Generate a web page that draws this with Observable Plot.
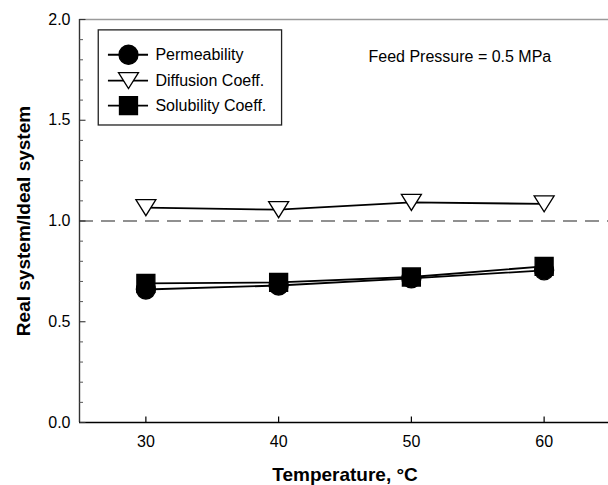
<!DOCTYPE html>
<html>
<head>
<meta charset="utf-8">
<script src="https://cdn.jsdelivr.net/npm/d3@7"></script>
<script src="https://cdn.jsdelivr.net/npm/@observablehq/plot@0.6"></script>
<style>
  body { margin: 0; background: #fff; overflow: hidden; }
</style>
</head>
<body>
<div id="chart"></div>
<script>
// Ratio of real to ideal system at a feed pressure of 0.5 MPa
const temperatures = [30, 40, 50, 60];
const permeability = [0.66, 0.68, 0.715, 0.755];
const diffusion = [1.066, 1.056, 1.092, 1.085];
const solubility = [0.69, 0.695, 0.722, 0.775];
const seriesNames = ["Permeability", "Diffusion Coeff.", "Solubility Coeff."];

const xTicks = [30, 40, 50, 60];
const yTicks = [0.0, 0.5, 1.0, 1.5, 2.0];
const yMinorTicks = [0.1, 0.2, 0.3, 0.4, 0.6, 0.7, 0.8, 0.9, 1.1, 1.2, 1.3, 1.4, 1.6, 1.7, 1.8, 1.9];
const note = "Feed Pressure = 0.5 MPa";

// Marker shapes (r = radius passed by Plot.dot)
const circleSym = {draw(ctx, size) { const r = Math.sqrt(size / Math.PI); ctx.moveTo(r, 0); ctx.arc(0, 0, r, 0, 2 * Math.PI); }};
const squareSym = {draw(ctx, size) { const r = Math.sqrt(size / Math.PI); ctx.rect(-r, -r, 2 * r, 2 * r); }};
const triDownSym = {draw(ctx, size) { const r = Math.sqrt(size / Math.PI); const h = r * 0.8; ctx.moveTo(-r, -h); ctx.lineTo(r, -h); ctx.lineTo(0, h); ctx.closePath(); }};
const tickUpSym = {draw(ctx) { ctx.moveTo(0, 0); ctx.lineTo(0, -6); }};
const tickRightMajor = {draw(ctx) { ctx.moveTo(0, 0); ctx.lineTo(6, 0); }};
const tickRightMinor = {draw(ctx) { ctx.moveTo(0, 0); ctx.lineTo(3.5, 0); }};

const seriesValues = [permeability, diffusion, solubility];
const styles = [
  {symbol: circleSym, r: 9.5, fill: "black"},
  {symbol: triDownSym, r: 10, fill: "white"},
  {symbol: squareSym, r: 9, fill: "black"}
];

const rows = seriesNames.flatMap((name, s) =>
  temperatures.map((t, i) => ({series: name, t, v: seriesValues[s][i]}))
);

// Legend placement in data units
const legendBox = {x1: 26.45, x2: 40.26, y1: 1.474, y2: 1.946};
const legendKey = {x1: 27.18, x2: 30.2, x: 28.69, text: 30.72};
const legendY = [1.825, 1.697, 1.573];
const legendRows = seriesNames.map((name, s) => ({name, y: legendY[s], s}));

const font = "'Liberation Sans', Arial, Helvetica, sans-serif";

const seriesDots = (data, xAcc, yAcc) => styles.map((st, s) =>
  Plot.dot(data.filter(d => (d.s ?? seriesNames.indexOf(d.series)) === s), {
    x: xAcc, y: yAcc, symbol: st.symbol, r: st.r, fill: st.fill, stroke: "black", strokeWidth: 1.3
  })
);

const chart = Plot.plot({
  width: 608,
  height: 485,
  marginLeft: 79,
  marginRight: -2,
  marginTop: 19,
  marginBottom: 63,
  style: {fontFamily: font, fontSize: "16px", background: "white", color: "black"},
  x: {domain: [25, 65], axis: null},
  y: {domain: [0, 2], axis: null},
  marks: [
    // frame
    Plot.ruleY([2], {stroke: "#9a9a9a", strokeWidth: 1.4}),
    Plot.ruleX([25], {stroke: "#333", strokeWidth: 1.4}),
    Plot.ruleY([0], {stroke: "black", strokeWidth: 1.6}),
    // ticks (inward)
    Plot.dot(xTicks, {x: d => d, y: 0, symbol: tickUpSym, fill: "none", stroke: "black", strokeWidth: 1.2}),
    Plot.dot(yTicks, {x: 25, y: d => d, symbol: tickRightMajor, fill: "none", stroke: "#333", strokeWidth: 1.1}),
    Plot.dot(yMinorTicks, {x: 25, y: d => d, symbol: tickRightMinor, fill: "none", stroke: "#555", strokeWidth: 1}),
    // tick labels
    Plot.text(xTicks, {x: d => d, y: 0, text: d => String(d), dy: 19, fontSize: 16, fill: "black"}),
    Plot.text(yTicks, {x: 25, y: d => d, text: d => d.toFixed(1), dx: -9, textAnchor: "end", fontSize: 16, fill: "black"}),
    // axis titles
    Plot.text(["Temperature, °C"], {frameAnchor: "bottom", dy: 52, textAnchor: "middle", lineAnchor: "middle", fontWeight: "bold", fontSize: 19, fill: "black"}),
    Plot.text(["Real system/Ideal system"], {frameAnchor: "left", dx: -56, rotate: -90, textAnchor: "middle", lineAnchor: "middle", fontWeight: "bold", fontSize: 19, fill: "black"}),
    // reference line at 1.0
    Plot.ruleY([1], {stroke: "#222", strokeWidth: 1.2, strokeDasharray: "14,8"}),
    // series
    Plot.line(rows, {x: "t", y: "v", z: "series", stroke: "black", strokeWidth: 1.8}),
    ...seriesDots(rows, "t", "v"),
    // legend
    Plot.rect([legendBox], {x1: "x1", x2: "x2", y1: "y1", y2: "y2", fill: "white", stroke: "#222", strokeWidth: 1.3}),
    Plot.ruleY(legendRows, {y: "y", x1: legendKey.x1, x2: legendKey.x2, stroke: "black", strokeWidth: 1.8}),
    ...seriesDots(legendRows, () => legendKey.x, "y"),
    Plot.text(legendRows, {x: legendKey.text, y: "y", text: "name", textAnchor: "start", fontSize: 16, fill: "black"}),
    // annotation
    Plot.text([note], {x: 46.77, y: 1.816, text: d => d, textAnchor: "start", fontSize: 16, fill: "black"})
  ]
});

document.getElementById("chart").append(chart);
</script>
</body>
</html>
